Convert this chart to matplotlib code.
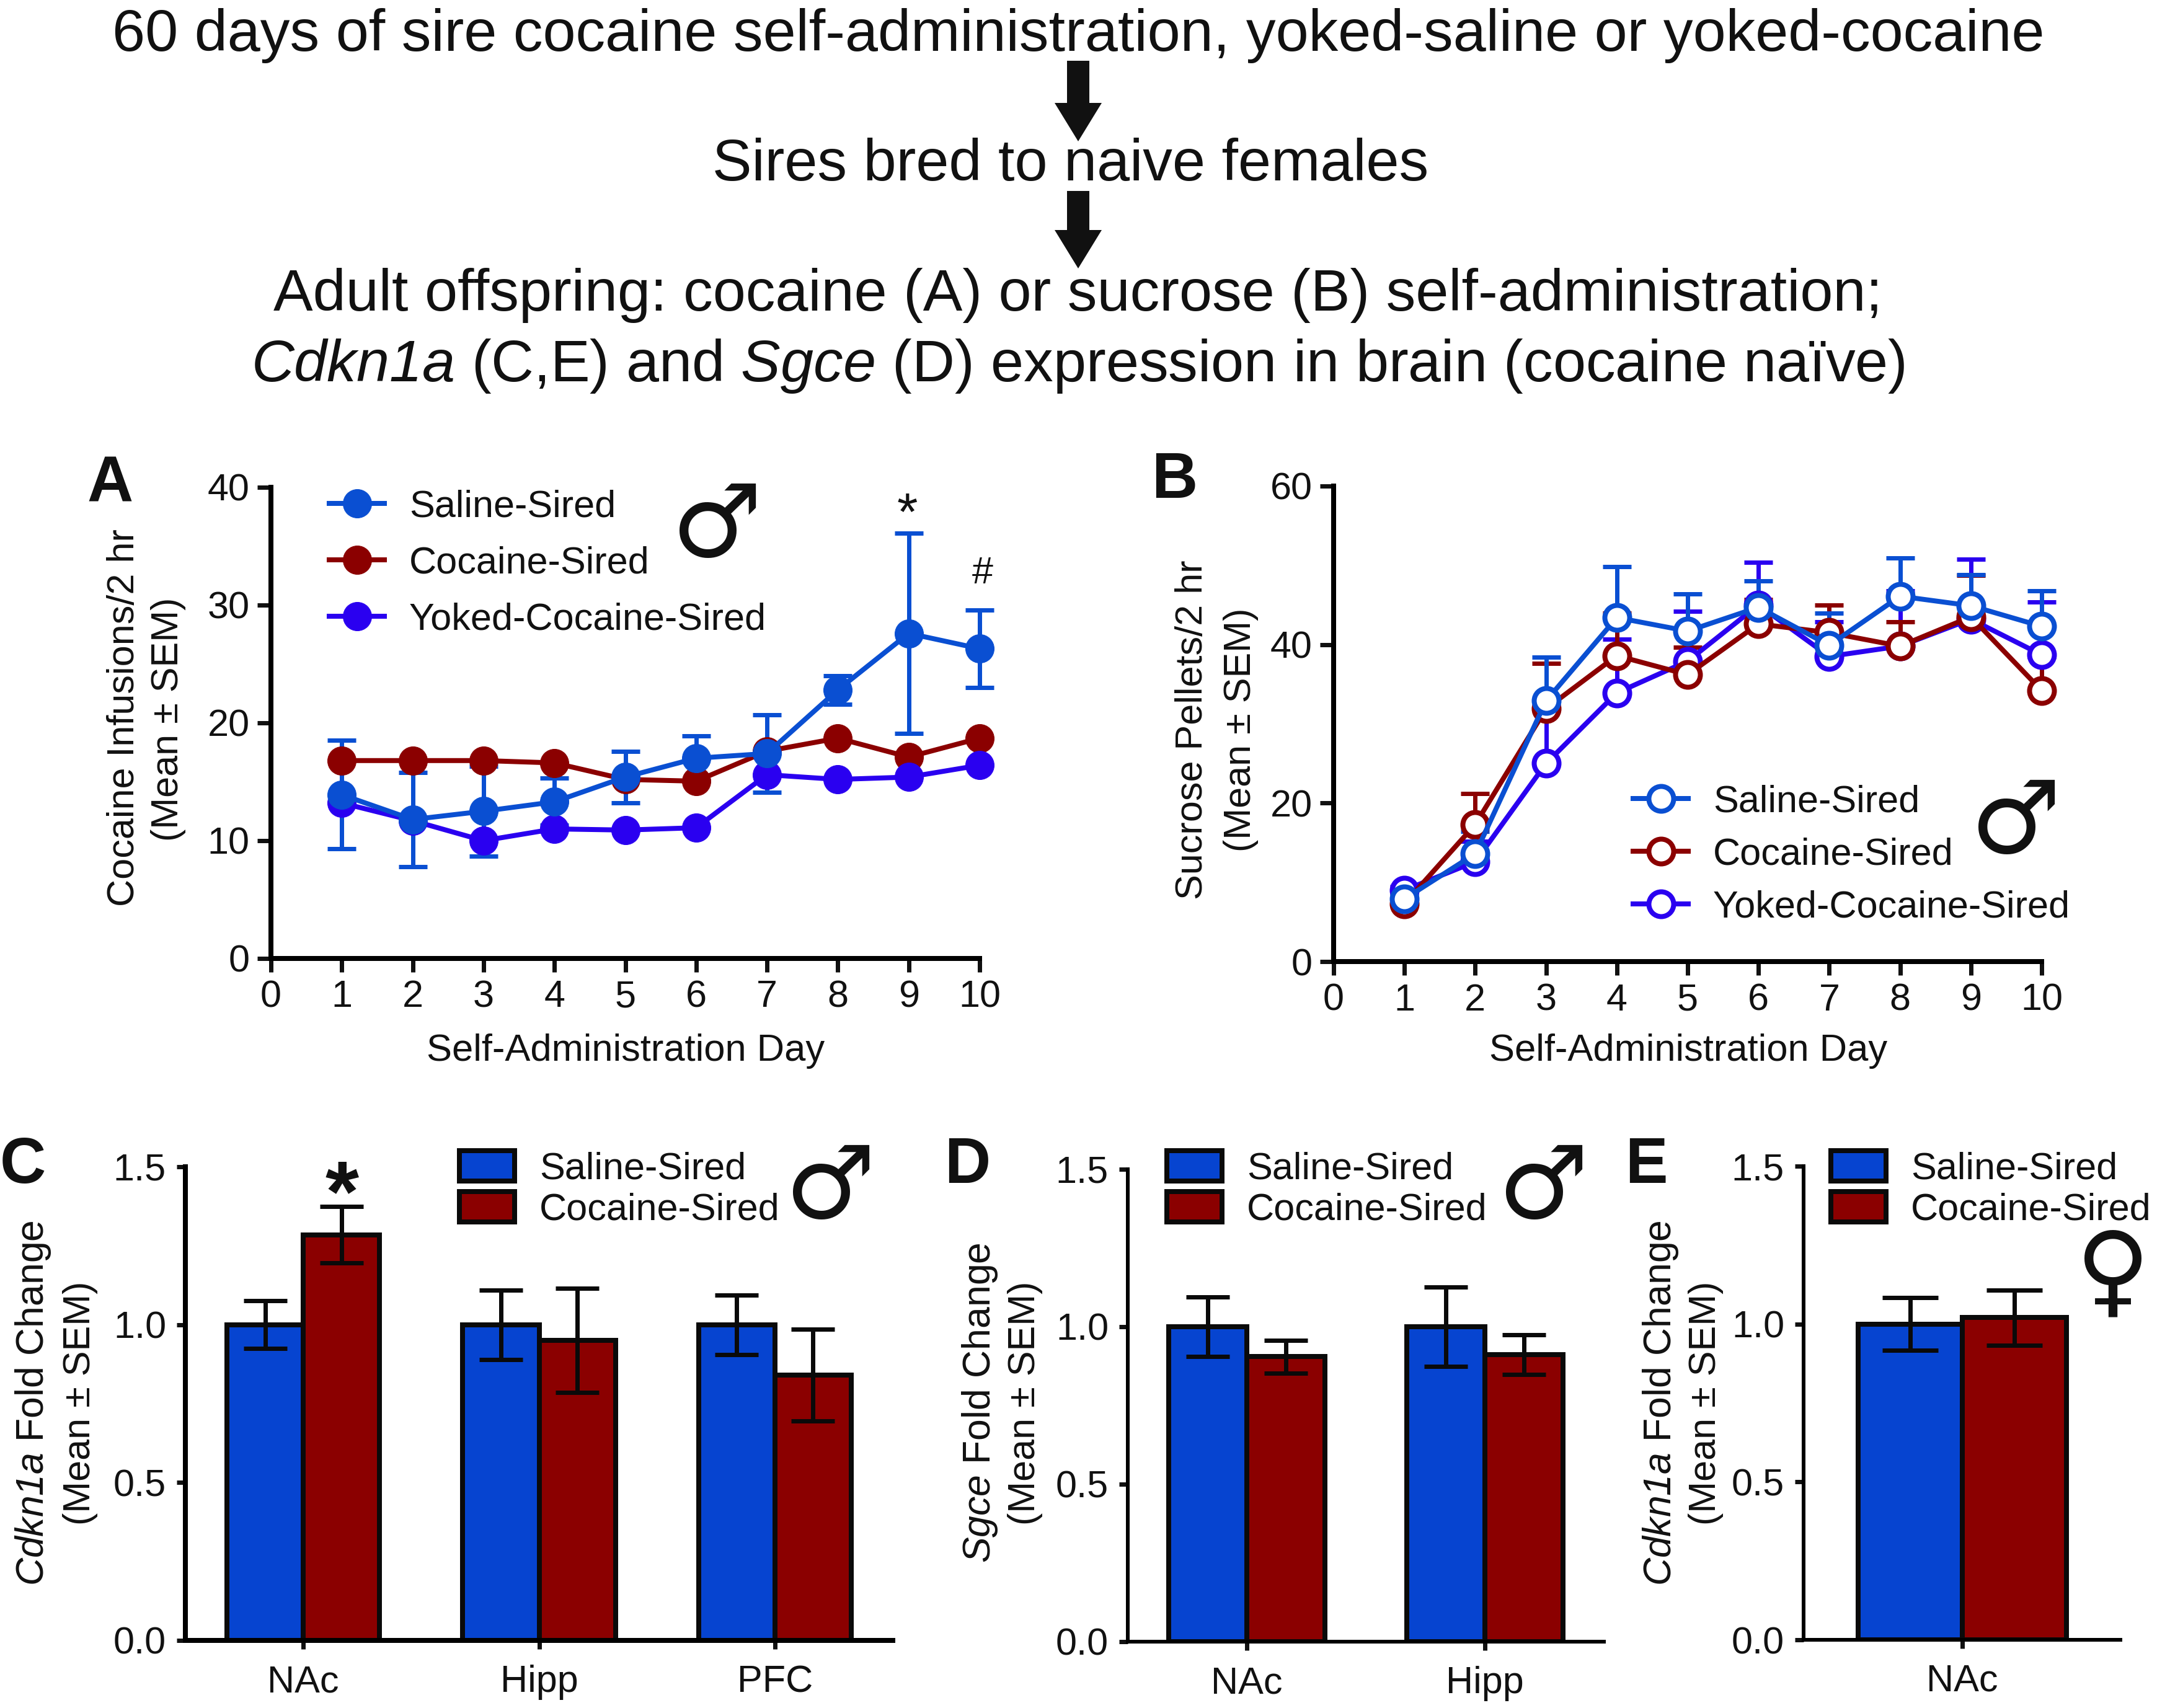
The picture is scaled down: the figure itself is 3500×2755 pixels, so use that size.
import matplotlib
matplotlib.use("Agg")
import matplotlib.pyplot as plt
from matplotlib.lines import Line2D
from matplotlib.patches import Patch

W, H = 3500, 2755
DPI = 100
plt.rcParams['font.family'] = ['Liberation Sans', 'DejaVu Sans']
plt.rcParams['mathtext.fontset'] = 'custom'
plt.rcParams['mathtext.rm'] = 'Liberation Sans'
plt.rcParams['mathtext.it'] = 'Liberation Sans:italic'
plt.rcParams['mathtext.cal'] = 'Liberation Sans:italic'
plt.rcParams['mathtext.default'] = 'regular'

BLUE = '#0a4fd2'
BAR_BLUE = '#0644d0'
RED = '#8b0000'
PURPLE = '#2a00f0'
SERIES = ['Saline-Sired', 'Cocaine-Sired', 'Yoked-Cocaine-Sired']

days = [1, 2, 3, 4, 5, 6, 7, 8, 9, 10]
day_ticks = [0, 1, 2, 3, 4, 5, 6, 7, 8, 9, 10]

a_saline = [13.9, 11.8, 12.5, 13.3, 15.4, 17.0, 17.4, 22.8, 27.6, 26.3]
a_saline_sem = [4.6, 4.0, 3.8, 2.0, 2.2, 1.9, 3.3, 1.2, 8.5, 3.3]
a_cocaine = [16.8, 16.8, 16.8, 16.6, 15.2, 15.05, 17.6, 18.7, 17.1, 18.7]
a_yoked = [13.2, 11.7, 10.0, 11.0, 10.9, 11.1, 15.6, 15.2, 15.4, 16.4]

b_saline = [7.9, 13.6, 32.9, 43.4, 41.7, 44.7, 39.9, 46.1, 44.9, 42.3]
b_saline_sem = [0.5, 2.8, 5.5, 6.4, 4.7, 3.3, 4.1, 4.8, 3.9, 4.5]
b_cocaine = [7.3, 17.3, 31.9, 38.6, 36.2, 42.6, 41.5, 39.8, 43.5, 34.2]
b_cocaine_sem = [0.5, 3.9, 5.7, 5.4, 3.5, 3.1, 3.5, 3.1, 5.2, 4.3]
b_yoked = [9.0, 12.6, 25.0, 33.9, 37.9, 45.0, 38.5, 39.8, 43.2, 38.7]
b_yoked_sem = [0.5, 2.6, 8.0, 6.8, 6.3, 5.4, 4.4, 7.0, 7.6, 6.7]

c_regions = ['NAc', 'Hipp', 'PFC']
c_saline = [1.0, 1.0, 1.0]
c_saline_sem = [0.075, 0.11, 0.094]
c_cocaine = [1.285, 0.95, 0.84]
c_cocaine_sem = [0.09, 0.165, 0.145]

d_regions = ['NAc', 'Hipp']
d_saline = [1.0, 1.0]
d_saline_sem = [0.094, 0.126]
d_cocaine = [0.905, 0.912]
d_cocaine_sem = [0.052, 0.063]

e_regions = ['NAc']
e_saline = [1.0]
e_saline_sem = [0.083]
e_cocaine = [1.02]
e_cocaine_sem = [0.088]

fig = plt.figure(figsize=(W / DPI, H / DPI), dpi=DPI)
px = 72 / DPI


def make_axes(left, right, top, bottom, spine_px=8):
    ax = fig.add_axes([left / W, 1 - bottom / H, (right - left) / W, (bottom - top) / H])
    for s in ('top', 'right'):
        ax.spines[s].set_visible(False)
    for s in ('left', 'bottom'):
        ax.spines[s].set_linewidth(spine_px * px)
    ax.patch.set_alpha(0)
    return ax


overlay = fig.add_axes([0, 0, 1, 1], zorder=20)
overlay.set_xlim(0, W)
overlay.set_ylim(H, 0)
overlay.axis('off')


def label(x, y, s, size=44, **kw):
    kw.setdefault('ha', 'center')
    kw.setdefault('va', 'center')
    overlay.text(x, y, s, fontsize=size, color='#111111', **kw)


def place_legend(ax, handles, labels, left, top, size=44, spacing=0.4, hh=0.7):
    ax.legend(handles, labels, loc='upper left',
              bbox_to_anchor=(left / W, 1 - top / H), bbox_transform=fig.transFigure,
              frameon=False, borderpad=0, borderaxespad=0, fontsize=size,
              labelspacing=spacing, handlelength=1.46, handletextpad=0.65,
              handleheight=hh, labelcolor='#111111')


def line_panel(ax, ylim, yticks, series, filled):
    ax.set_xlim(0, 10)
    ax.set_ylim(*ylim)
    ax.set_xticks(day_ticks)
    ax.set_yticks(yticks)
    ax.tick_params(length=22 * px, width=7 * px, labelsize=44, colors='#111111')
    ax.tick_params(axis='y', pad=12.5 * px)
    ax.tick_params(axis='x', pad=12.5 * px)
    for vals, sem, color, name, sides in series:
        mfc = color if filled else 'white'
        if sem is not None:
            yerr = [[0] * len(sem), sem] if sides == 'up' else sem
            ax.errorbar(days, vals, yerr=yerr, fmt='none', ecolor=color,
                        elinewidth=7 * px, capsize=23 * px, capthick=7 * px,
                        clip_on=False, zorder=3)
        ax.plot(days, vals, '-o', color=color, lw=8 * px, ms=(46 if filled else 40) * px,
                mfc=mfc, mec=color, mew=(1 if filled else 8) * px, clip_on=False, zorder=4)


def legend_line(color, filled):
    return Line2D([], [], color=color, lw=8 * px, marker='o', ms=(46 if filled else 40) * px,
                  mfc=color if filled else 'white', mec=color, mew=(1 if filled else 8) * px)


def bar_panel(ax, regions, sal, sal_e, coc, coc_e, width, cap_px):
    pos = list(range(1, len(regions) + 1))
    ax.set_xlim(0.5, len(regions) + 0.5)
    ax.set_ylim(0, 1.5)
    ax.set_xticks(pos)
    ax.set_xticklabels(regions)
    ax.set_yticks([0, 0.5, 1.0, 1.5])
    ax.set_yticklabels(['0.0', '0.5', '1.0', '1.5'])
    ax.tick_params(length=14 * px, width=7 * px, labelsize=44, colors='#111111')
    ax.tick_params(axis='y', pad=17 * px)
    ax.tick_params(axis='x', pad=25 * px)
    for vals, errs, color, sign in ((sal, sal_e, BAR_BLUE, -1), (coc, coc_e, RED, 1)):
        xs = [p + sign * width / 2 for p in pos]
        ax.bar(xs, vals, width=width, color=color, edgecolor='#0a0a0a',
               linewidth=8 * px, zorder=2)
        ax.errorbar(xs, vals, yerr=errs, fmt='none', ecolor='#0a0a0a', elinewidth=7 * px,
                    capsize=cap_px / 2 * px, capthick=7 * px, zorder=3)


bar_handles = [Patch(facecolor=BAR_BLUE, edgecolor='#0a0a0a', linewidth=8 * px),
               Patch(facecolor=RED, edgecolor='#0a0a0a', linewidth=8 * px)]

# Panel A
axA = make_axes(437, 1580, 786, 1546)
line_panel(axA, (0, 40), [0, 10, 20, 30, 40],
           [(a_cocaine, None, RED, SERIES[1], 'both'),
            (a_yoked, None, PURPLE, SERIES[2], 'both'),
            (a_saline, a_saline_sem, BLUE, SERIES[0], 'both')], True)
place_legend(axA, [legend_line(BLUE, True), legend_line(RED, True), legend_line(PURPLE, True)],
             SERIES, 531, 789, spacing=0.56)

# Panel B
axB = make_axes(2151, 3293, 784, 1551)
line_panel(axB, (0, 60), [0, 20, 40, 60],
           [(b_yoked, b_yoked_sem, PURPLE, SERIES[2], 'up'),
            (b_cocaine, b_cocaine_sem, RED, SERIES[1], 'up'),
            (b_saline, b_saline_sem, BLUE, SERIES[0], 'up')], False)
place_legend(axB, [legend_line(BLUE, False), legend_line(RED, False), legend_line(PURPLE, False)],
             SERIES, 2634, 1265, spacing=0.46)

# Panel C, D, E
axC = make_axes(299, 1440, 1882, 2646)
bar_panel(axC, c_regions, c_saline, c_saline_sem, c_cocaine, c_cocaine_sem, 124 / 383, 70)
place_legend(axC, bar_handles, SERIES[:2], 741, 1856, spacing=0.12, hh=0.85)

axD = make_axes(1819, 2587, 1886, 2648, spine_px=6)
bar_panel(axD, d_regions, d_saline, d_saline_sem, d_cocaine, d_cocaine_sem, 125 / 380, 70)
place_legend(axD, bar_handles, SERIES[:2], 1882, 1856, spacing=0.12, hh=0.85)

axE = make_axes(2909, 3420, 1881, 2645, spine_px=6)
bar_panel(axE, e_regions, e_saline, e_saline_sem, e_cocaine, e_cocaine_sem, 168 / 511, 90)
place_legend(axE, bar_handles, SERIES[:2], 2953, 1856, spacing=0.12, hh=0.85)

# Axis titles
CDKN = r'$\mathcal{Cdkn1a}$'
SGCE = r'$\mathcal{Sgce}$'
label(201, 1158, 'Cocaine Infusions/2 hr', rotation=90)
label(272, 1160, '(Mean ± SEM)', rotation=90)
label(1009, 1695, 'Self-Administration Day', size=44.3)
label(1924, 1177, 'Sucrose Pellets/2 hr', rotation=90)
label(2002, 1177, '(Mean ± SEM)', rotation=90)
label(2723, 1695, 'Self-Administration Day', size=44.3)
label(54, 2263, CDKN + ' Fold Change', rotation=90, size=45)
label(129, 2263, '(Mean ± SEM)', rotation=90)
label(1580, 2263, SGCE + ' Fold Change', rotation=90, size=45)
label(1654, 2263, '(Mean ± SEM)', rotation=90)
label(2678, 2263, CDKN + ' Fold Change', rotation=90, size=45)
label(2752, 2263, '(Mean ± SEM)', rotation=90)

# Panel letters
for s, x, y in (('A', 178, 782), ('B', 1894, 776), ('C', 37, 1881), ('D', 1560, 1881), ('E', 2655, 1881)):
    label(x, y, s, size=74, fontweight='bold')

# Significance marks
label(1463, 833, '*', size=62)
label(1585, 925, '#', size=44)
label(552, 1933, '*', size=100, fontweight='bold')

# Sex symbols
for x, y in ((1155, 852), (3250, 1330), (1338, 1919), (2488, 1919)):
    label(x, y, '♂', size=118, family='DejaVu Sans')
label(3408, 2058, '♀', size=118, family='DejaVu Sans')

# Workflow text
TOP = 68.7
label(1739, 57, '60 days of sire cocaine self-administration, yoked-saline or yoked-cocaine', size=TOP)
label(1727, 266, 'Sires bred to naive females', size=TOP)
label(1739, 476, 'Adult offspring: cocaine (A) or sucrose (B) self-administration;', size=TOP)
label(1739, 590, CDKN + ' (C,E) and ' + SGCE + ' (D) expression in brain (cocaine naïve)', size=TOP)

for y0, y1 in ((98, 228), (308, 433)):
    overlay.arrow(1739, y0, 0, y1 - y0, width=36, head_width=76, head_length=62,
                  length_includes_head=True, color='#111111', lw=0)

fig.savefig('out.png', dpi=DPI, facecolor='white')
